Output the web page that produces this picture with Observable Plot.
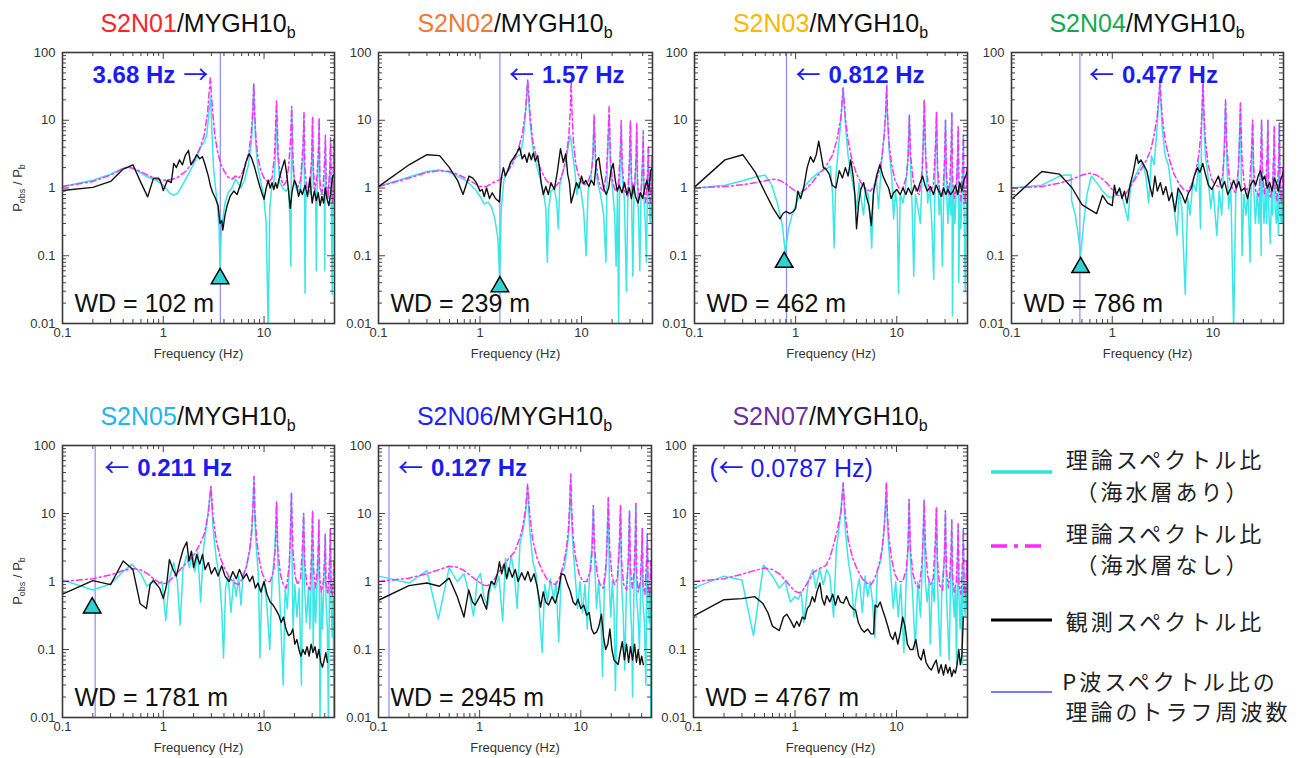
<!DOCTYPE html>
<html><head><meta charset="utf-8">
<script src="https://cdn.jsdelivr.net/npm/d3@7"></script>
<script src="https://cdn.jsdelivr.net/npm/@observablehq/plot@0.6"></script>
<style>
body{margin:0;background:#fff;}
#root{position:relative;width:1301px;height:758px;overflow:hidden;background:#fff;font-family:"Liberation Sans",Arial,Helvetica,sans-serif;}
.pw{position:absolute;}
.title{position:absolute;font-size:25px;line-height:25px;white-space:nowrap;transform:translateX(-50%);color:#111;}
.title sub{font-size:16px;line-height:0;vertical-align:-6px;}
.ylab{position:absolute;font-size:13px;line-height:13px;white-space:nowrap;transform:translate(-50%,-50%) rotate(-90deg);color:#333;}
.ylab sub{font-size:9px;line-height:0;vertical-align:-3px;}
#legend{position:absolute;left:0;top:0;}
</style></head>
<body><div id="root"></div>
<script>
// ---------------- data ----------------
const stations = ["S2N01","S2N02","S2N03","S2N04","S2N05","S2N06","S2N07"];
const reference = "MYGH10";
const waterDepths = [102, 239, 462, 786, 1781, 2945, 4767];
const troughFreqs = [3.68, 1.57, 0.812, 0.477, 0.211, 0.127, 0.0787];
const troughLabels = ["3.68 Hz","1.57 Hz","0.812 Hz","0.477 Hz","0.211 Hz","0.127 Hz","0.0787 Hz)"];
const troughMarkers = [[3.66,0.046],[1.57,0.035],[0.77,0.08],[0.485,0.067],[0.197,0.41],null,null];

const xMajor = [0.1, 1, 10];
const xMinor = [0.2,0.3,0.4,0.5,0.6,0.7,0.8,0.9,2,3,4,5,6,7,8,9,20,30,40];
const yMajor = [0.01, 0.1, 1, 10, 100];
const yMinor = [0.02,0.03,0.04,0.05,0.06,0.07,0.08,0.09,0.2,0.3,0.4,0.5,0.6,0.7,0.8,0.9,2,3,4,5,6,7,8,9,20,30,40,50,60,70,80,90];

// observed spectral ratio (black)
const obs1 = [[0.1,0.92],[0.2,1.02],[0.3,1.25],[0.4,1.9],[0.5,2.2],[0.6,1.2],[0.7,0.74],[0.8,1.4],[0.9,1.4],[0.95,1.2],[1.0,0.92],[1.1,1.3],[1.2,1.2],[1.27,2.3],[1.35,2.0],[1.45,2.6],[1.55,2.2],[1.65,3.0],[1.78,3.6],[1.88,2.2],[2.0,2.5],[2.15,3.1],[2.3,2.7],[2.45,2.9],[2.6,2.2],[2.8,1.5],[2.95,1.05],[3.1,0.85],[3.3,0.7],[3.5,0.55],[3.65,0.3],[3.8,0.33],[3.9,0.24],[4.1,0.4],[4.3,0.55],[4.6,0.75],[5.0,0.9],[5.4,0.8],[5.8,1.1],[6.2,1.6],[6.6,2.4],[7.1,3.2],[7.5,2.8],[8.0,2.1],[8.5,1.5],[9.0,1.1],[9.5,0.85],[10.0,0.68],[10.5,1.0],[11.0,1.3],[11.5,1.0],[12.0,1.2],[12.5,0.95],[13.0,1.2],[13.5,1.0],[14.0,1.3],[15.0,1.9],[16.0,2.6],[16.8,1.6],[17.5,0.9],[18.2,0.5],[19.0,0.9],[20.0,1.3],[21.0,1.1],[22.0,0.75],[23.0,0.95],[24.0,0.8],[25.5,1.1],[27.0,0.75],[28.5,1.4],[30.0,0.6],[31.5,0.9],[33.0,0.65],[34.5,0.85],[36.0,0.55],[37.5,0.75],[39.0,0.6],[40.5,1.0],[42.0,0.7],[44.0,0.55],[46.0,0.9],[48.0,1.5],[50,1.6]];
const obs2 = [[0.1,1.05],[0.2,2.2],[0.3,3.1],[0.4,3.0],[0.5,2.0],[0.6,1.3],[0.68,0.8],[0.78,1.5],[0.85,1.4],[0.92,1.2],[1.0,0.9],[1.05,0.95],[1.1,0.75],[1.16,1.0],[1.24,0.7],[1.32,0.85],[1.42,0.7],[1.55,0.62],[1.62,1.4],[1.7,2.0],[1.78,1.5],[1.88,1.8],[2.0,2.4],[2.15,2.8],[2.3,3.3],[2.45,4.0],[2.6,2.7],[2.75,3.1],[2.9,2.4],[3.05,3.3],[3.2,2.6],[3.35,3.3],[3.5,2.5],[3.7,3.0],[3.85,2.0],[4.0,1.2],[4.2,0.8],[4.45,1.05],[4.7,0.8],[5.0,1.2],[5.4,0.95],[5.8,1.8],[6.2,3.8],[6.6,2.4],[7.0,3.2],[7.3,1.6],[7.6,1.2],[7.9,0.6],[8.4,0.85],[8.9,1.2],[9.4,1.0],[10.0,1.5],[10.5,1.15],[11.0,1.3],[11.8,1.05],[12.5,1.3],[13.3,1.1],[14.0,2.5],[14.8,2.8],[15.6,1.6],[16.5,1.0],[17.5,0.8],[18.5,1.0],[19.5,1.8],[20.5,2.3],[21.5,1.3],[22.5,0.9],[23.5,1.1],[25.0,0.85],[26.5,1.2],[28.0,0.8],[29.5,1.0],[31.0,0.7],[32.5,1.1],[34.0,0.75],[36.0,0.6],[38.0,0.85],[40.0,0.7],[42.0,1.0],[44.0,1.3],[46.0,0.9],[48.0,1.8],[50,2.0]];
const obs3 = [[0.1,1.03],[0.2,2.6],[0.3,3.1],[0.4,1.7],[0.5,0.85],[0.6,0.5],[0.7,0.35],[0.75,0.42],[0.8,0.45],[0.88,0.42],[0.95,0.45],[1.0,0.5],[1.05,0.9],[1.12,0.7],[1.2,1.0],[1.3,2.0],[1.4,2.9],[1.5,2.4],[1.6,3.1],[1.69,4.9],[1.78,3.2],[1.88,2.0],[2.0,1.9],[2.15,1.6],[2.3,1.1],[2.5,1.0],[2.7,1.8],[2.9,1.4],[3.1,2.0],[3.3,1.5],[3.5,2.6],[3.7,1.5],[3.85,0.8],[4.0,0.25],[4.2,0.6],[4.4,0.95],[4.7,1.2],[5.0,0.75],[5.3,0.55],[5.6,0.28],[5.9,0.9],[6.3,1.5],[6.8,2.2],[7.3,1.5],[7.8,1.2],[8.3,1.0],[8.8,0.7],[9.3,0.85],[10.0,0.95],[10.8,0.8],[11.5,1.0],[12.3,0.8],[13.0,1.0],[14.0,0.8],[15.0,1.1],[16.0,0.9],[17.0,1.2],[18.0,1.5],[19.0,1.1],[20.0,0.9],[21.5,1.05],[23.0,0.8],[24.5,1.1],[26.0,0.9],[27.5,0.75],[29.0,1.0],[30.5,0.8],[32.0,0.95],[34.0,0.8],[36.0,0.9],[38.0,1.1],[40.0,0.8],[42.0,1.2],[44.0,0.9],[46.0,1.3],[48.0,1.5],[50,1.8]];
const obs4 = [[0.1,0.68],[0.2,1.75],[0.3,1.6],[0.4,1.0],[0.5,0.57],[0.6,0.48],[0.7,0.42],[0.8,0.78],[0.9,0.6],[1.0,0.55],[1.05,1.1],[1.1,0.8],[1.18,1.0],[1.25,0.7],[1.32,0.9],[1.4,0.6],[1.5,1.1],[1.6,1.6],[1.67,2.2],[1.74,3.1],[1.82,2.3],[1.92,2.6],[2.05,2.2],[2.2,1.8],[2.35,1.1],[2.5,0.75],[2.65,1.5],[2.8,0.9],[3.0,1.2],[3.2,0.8],[3.4,1.05],[3.65,0.65],[3.9,0.85],[4.2,0.45],[4.5,1.0],[4.9,0.8],[5.3,0.6],[5.7,0.85],[6.1,1.0],[6.5,1.5],[7.0,2.0],[7.4,1.7],[7.9,2.3],[8.4,1.6],[9.0,1.1],[9.7,0.95],[10.5,1.2],[11.3,1.5],[12.2,1.0],[13.0,1.25],[14.0,0.8],[15.0,1.0],[16.0,1.3],[17.0,1.0],[18.0,1.25],[19.0,0.9],[20.5,1.0],[22.0,0.7],[23.5,1.1],[25.0,1.3],[26.5,1.1],[28.0,1.5],[29.5,1.8],[31.0,1.3],[32.5,1.5],[34.5,1.0],[36.5,1.2],[38.5,0.9],[40.5,1.4],[42.5,1.2],[44.5,0.9],[46.5,1.3],[48.5,1.5],[50,1.8]];
const obs5 = [[0.1,0.65],[0.2,1.03],[0.3,0.9],[0.4,2.0],[0.5,1.5],[0.59,0.47],[0.68,0.4],[0.74,0.9],[0.8,1.05],[0.86,0.9],[0.92,0.8],[1.0,0.56],[1.08,0.9],[1.15,2.1],[1.25,1.5],[1.35,1.2],[1.45,1.9],[1.58,3.0],[1.71,3.8],[1.8,2.0],[1.9,2.8],[2.0,1.6],[2.15,2.5],[2.3,1.8],[2.45,2.5],[2.6,1.5],[2.8,1.9],[3.0,1.3],[3.25,1.6],[3.5,1.2],[3.8,1.7],[4.1,1.2],[4.5,1.0],[4.9,1.4],[5.3,1.1],[5.7,1.5],[6.2,1.1],[6.7,1.3],[7.2,1.0],[7.7,1.2],[8.2,0.8],[8.7,0.95],[9.3,0.7],[10.0,1.0],[10.7,0.65],[11.5,0.5],[12.3,0.45],[13.2,0.38],[14.0,0.32],[14.8,0.25],[15.6,0.3],[16.5,0.2],[17.5,0.16],[18.5,0.17],[19.3,0.2],[20.2,0.12],[21.2,0.14],[22.2,0.1],[23.2,0.08],[24.3,0.1],[25.5,0.085],[26.7,0.11],[28.0,0.08],[29.3,0.12],[30.6,0.09],[32.0,0.11],[33.5,0.075],[35.0,0.1],[36.5,0.065],[38.0,0.055],[39.5,0.07],[41.0,0.09],[42.5,0.065]];
const obs6 = [[0.1,0.53],[0.2,0.87],[0.3,0.95],[0.4,0.85],[0.5,1.12],[0.6,0.6],[0.7,0.3],[0.78,0.75],[0.85,0.5],[0.9,0.45],[0.97,0.55],[1.03,0.65],[1.09,0.5],[1.17,0.39],[1.22,0.7],[1.3,1.0],[1.4,0.9],[1.5,1.3],[1.57,1.95],[1.65,1.3],[1.75,1.8],[1.85,1.1],[1.95,1.6],[2.1,1.15],[2.25,1.5],[2.4,1.0],[2.6,1.35],[2.8,1.05],[3.0,1.4],[3.2,1.0],[3.45,1.3],[3.7,0.85],[4.0,0.42],[4.25,0.7],[4.5,0.5],[4.8,0.45],[5.2,0.6],[5.6,0.48],[6.0,0.7],[6.4,1.3],[6.9,1.25],[7.4,0.9],[7.9,0.7],[8.4,0.5],[8.9,0.45],[9.4,0.55],[10.0,0.4],[10.7,0.45],[11.4,0.32],[12.1,0.35],[12.8,0.2],[13.5,0.17],[14.3,0.18],[15.1,0.22],[16.0,0.33],[16.8,0.15],[17.6,0.1],[18.5,0.12],[19.4,0.2],[20.3,0.1],[21.3,0.07],[22.3,0.065],[23.4,0.06],[24.5,0.09],[25.7,0.13],[27.0,0.07],[28.3,0.12],[29.7,0.065],[31.0,0.11],[32.5,0.07],[34.0,0.12],[35.5,0.065],[37.0,0.1],[38.5,0.06],[40.0,0.08],[41.5,0.06]];
const obs7 = [[0.1,0.31],[0.2,0.54],[0.3,0.56],[0.4,0.6],[0.48,0.48],[0.54,0.35],[0.6,0.22],[0.7,0.19],[0.77,0.3],[0.83,0.33],[0.9,0.27],[0.98,0.21],[1.04,0.26],[1.1,0.22],[1.18,0.3],[1.25,0.28],[1.32,0.4],[1.4,0.45],[1.48,0.6],[1.56,0.5],[1.65,0.72],[1.76,0.95],[1.85,0.56],[1.95,0.45],[2.05,0.62],[2.2,0.5],[2.35,0.65],[2.5,0.45],[2.65,0.62],[2.8,0.5],[3.0,0.48],[3.2,0.6],[3.45,0.45],[3.7,0.4],[3.95,0.38],[4.2,0.25],[4.5,0.2],[4.8,0.18],[5.2,0.2],[5.6,0.17],[5.95,0.17],[6.15,0.45],[6.5,0.42],[6.9,0.5],[7.3,0.38],[7.7,0.3],[8.2,0.22],[8.7,0.16],[9.2,0.14],[9.7,0.18],[10.3,0.12],[10.9,0.18],[11.5,0.3],[12.1,0.22],[12.8,0.12],[13.6,0.1],[14.5,0.1],[15.5,0.14],[16.5,0.08],[17.5,0.07],[18.5,0.1],[19.5,0.065],[20.7,0.055],[22.0,0.05],[23.3,0.06],[24.6,0.07],[26.0,0.045],[27.5,0.06],[29.0,0.042],[30.5,0.06],[32.0,0.045],[33.5,0.055],[35.0,0.04],[36.5,0.05],[38.0,0.045],[39.5,0.06],[41.0,0.1],[42.5,0.06],[44.0,0.08],[45.5,0.3]];

// theoretical ratio without sea layer (magenta dash-dot)
const noSea1 = [[0.1,1.05],[0.2,1.25],[0.3,1.55],[0.4,1.95],[0.47,2.0],[0.55,1.85],[0.7,1.55],[0.85,1.35],[1.0,1.3],[1.2,1.33],[1.4,1.45],[1.7,1.8],[2.0,2.6],[2.3,3.8],[2.55,6],[2.75,13],[2.93,42],[3.08,14],[3.25,6],[3.45,3.5],[3.7,2.3],[4.0,1.8],[4.4,1.45],[4.8,1.35],[5.2,1.5],[5.6,1.4],[6.0,1.6],[6.6,2.3],[7.1,3.5],[7.5,7],[7.75,15],[7.9,35],[8.05,14],[8.3,5.5],[8.7,2.8],[9.3,1.8],[10.0,1.4],[11.0,1.2],[12.0,1.4],[12.7,3],[13.3,20],[13.8,3],[14.5,1.5],[15.5,1.1],[16.5,1.2],[17.5,2.0],[18.3,5],[18.8,16],[19.3,3],[20.0,1.3],[21.5,1.0],[23.0,1.3],[24.3,4],[24.9,13],[25.4,2],[26.5,1.0],[28.0,0.9],[29.6,2.5],[30.3,11],[30.9,1.8],[32.0,0.9],[33.5,1.5],[34.7,4],[35.2,11],[35.8,1.3],[37.0,0.8],[38.5,1.0],[40.1,3],[40.6,6],[41.4,1.0],[43.0,0.7],[45.0,2],[45.7,5.5],[46.5,0.9],[48.0,0.6],[49.2,5.5],[50,1.2]];
const noSea2 = [[0.1,1.05],[0.2,1.4],[0.3,1.7],[0.4,1.8],[0.5,1.75],[0.6,1.6],[0.75,1.35],[0.9,1.15],[1.0,1.05],[1.15,1.05],[1.35,1.2],[1.6,1.35],[1.85,1.7],[2.1,2.3],[2.35,3.5],[2.6,6],[2.8,13],[2.95,40],[3.1,13],[3.3,5],[3.6,2.8],[4.0,1.8],[4.5,1.3],[5.0,1.1],[5.5,1.05],[6.0,1.2],[6.6,1.8],[7.1,3],[7.5,6],[7.75,14],[7.9,40],[8.05,14],[8.3,5],[8.8,2.2],[9.5,1.4],[10.5,1.1],[11.5,1.2],[12.5,1.7],[13.0,3],[13.3,12],[13.7,3],[14.5,1.4],[15.5,1.0],[16.5,0.9],[17.5,1.6],[18.1,4],[18.7,16],[19.3,2.5],[20.3,1.2],[21.5,0.9],[23.0,1.1],[24.0,3],[24.6,10],[25.2,2],[26.5,0.9],[28.5,0.75],[29.6,2.5],[30.3,10],[31.0,1.5],[32.3,0.8],[33.5,1.2],[34.5,3],[35.0,9],[35.6,1.2],[37.0,0.7],[38.8,1.0],[40.0,3],[40.5,7],[41.2,1.0],[43.0,0.6],[44.9,2],[45.5,4],[46.3,0.8],[47.8,0.6],[49.2,3],[50,0.8]];
const noSea3 = [[0.1,1.0],[0.2,1.05],[0.3,1.12],[0.4,1.2],[0.5,1.28],[0.6,1.35],[0.7,1.3],[0.8,1.15],[0.9,1.0],[1.0,0.9],[1.1,0.85],[1.25,0.95],[1.45,1.2],[1.7,1.6],[2.0,2.1],[2.3,3],[2.55,5],[2.8,11],[2.95,30],[3.1,11],[3.3,5],[3.6,2.6],[4.0,1.6],[4.5,1.15],[5.0,0.95],[5.5,0.9],[6.0,1.1],[6.6,1.6],[7.1,2.8],[7.5,6],[7.75,13],[7.95,33],[8.1,12],[8.4,4.5],[8.9,2.2],[9.6,1.3],[10.5,1.0],[11.5,1.0],[12.5,1.5],[13.0,3],[13.3,12],[13.7,3],[14.5,1.3],[15.5,0.9],[16.7,0.8],[17.8,1.8],[18.3,5],[18.7,20],[19.3,3],[20.3,1.2],[21.5,0.9],[23.0,1.1],[24.1,4],[24.7,13],[25.3,2],[26.5,0.9],[28.5,0.75],[29.6,2.5],[30.3,10],[31.0,1.5],[32.3,0.8],[33.5,1.3],[34.5,4],[35.0,13],[35.6,1.3],[37.0,0.7],[38.8,1.0],[40.0,3.5],[40.5,8],[41.2,1.0],[43.0,0.65],[44.9,2.5],[45.5,6],[46.3,0.8],[47.8,0.6],[49.2,2],[50,1.0]];
const noSea4 = [[0.1,1.0],[0.2,1.05],[0.3,1.18],[0.4,1.35],[0.5,1.55],[0.6,1.65],[0.7,1.55],[0.8,1.35],[0.9,1.15],[1.0,0.95],[1.1,0.8],[1.2,0.75],[1.35,0.8],[1.55,1.1],[1.8,1.6],[2.1,2.3],[2.4,3.6],[2.6,6],[2.8,12],[2.97,36],[3.12,12],[3.35,5],[3.7,2.6],[4.1,1.6],[4.6,1.15],[5.1,0.95],[5.6,0.9],[6.1,1.1],[6.7,1.7],[7.2,3],[7.55,6],[7.78,14],[7.95,40],[8.1,14],[8.4,5],[8.9,2.3],[9.6,1.4],[10.5,1.1],[11.5,1.05],[12.5,1.6],[13.0,4],[13.3,20],[13.7,4],[14.5,1.4],[15.5,1.0],[16.7,0.85],[17.8,1.8],[18.3,5],[18.7,18],[19.3,3],[20.3,1.2],[21.5,0.9],[23.0,1.1],[24.1,3.5],[24.7,10],[25.3,2],[26.5,0.9],[28.5,0.75],[29.6,2.5],[30.3,10],[31.0,1.5],[32.3,0.8],[33.5,1.3],[34.5,3.5],[35.0,10],[35.6,1.3],[37.0,0.7],[38.8,1.0],[40.0,3.5],[40.5,8],[41.2,1.0],[43.0,0.65],[44.9,3],[45.5,9],[46.3,0.9],[47.8,0.6],[49.2,2],[50,1.0]];
const noSea5 = [[0.1,1.0],[0.2,1.1],[0.3,1.25],[0.4,1.45],[0.5,1.55],[0.6,1.48],[0.7,1.3],[0.8,1.1],[0.9,0.98],[1.0,0.93],[1.1,0.95],[1.25,1.15],[1.45,1.45],[1.7,1.9],[2.0,2.4],[2.3,3.5],[2.55,5],[2.8,10],[2.97,25],[3.12,9],[3.35,4],[3.7,2.2],[4.1,1.5],[4.6,1.1],[5.1,0.95],[5.6,0.9],[6.1,1.1],[6.7,1.7],[7.2,3],[7.55,6],[7.78,13],[7.95,35],[8.1,12],[8.4,4.5],[8.9,2.2],[9.6,1.3],[10.5,1.0],[11.5,1.0],[12.5,1.5],[13.0,3.5],[13.3,15],[13.7,3],[14.5,1.3],[15.5,0.9],[16.7,0.8],[17.8,1.8],[18.3,5],[18.7,20],[19.3,3],[20.3,1.2],[21.5,0.9],[23.0,1.1],[24.1,3.5],[24.7,10],[25.3,2],[26.5,0.9],[28.5,0.75],[29.6,2.5],[30.3,11],[31.0,1.5],[32.3,0.8],[33.5,1.3],[34.5,3],[35.0,8],[35.6,1.2],[37.0,0.7],[38.8,1.0],[40.0,2.5],[40.5,5],[41.2,0.9],[43.0,0.65],[44.9,2.5],[45.5,6],[46.3,0.8],[47.8,0.6],[49.2,2],[50,1.0]];
const noSea6 = [[0.1,1.0],[0.2,1.12],[0.3,1.3],[0.4,1.5],[0.5,1.68],[0.6,1.62],[0.7,1.45],[0.8,1.25],[0.9,1.08],[1.0,0.97],[1.1,0.88],[1.2,0.87],[1.35,1.0],[1.6,1.5],[1.9,2.1],[2.2,2.7],[2.45,4],[2.65,6],[2.85,12],[2.98,27],[3.12,10],[3.35,4],[3.7,2.2],[4.1,1.5],[4.6,1.1],[5.1,0.95],[5.6,0.9],[6.1,1.1],[6.7,1.7],[7.2,3],[7.55,6],[7.78,14],[7.95,38],[8.1,13],[8.4,4.5],[8.9,2.2],[9.6,1.3],[10.5,1.0],[11.5,1.0],[12.5,1.5],[13.0,3],[13.3,13],[13.7,3],[14.5,1.3],[15.5,0.9],[16.7,0.8],[17.8,1.8],[18.3,5],[18.7,17],[19.3,3],[20.3,1.2],[21.5,0.9],[23.0,1.1],[24.1,4],[24.7,13],[25.3,2],[26.5,0.9],[28.5,0.75],[29.6,2.5],[30.3,11],[31.0,1.5],[32.3,0.8],[33.5,1.3],[34.5,4],[35.0,14],[35.6,1.3],[37.0,0.7],[38.8,1.0],[40.0,3],[40.5,6],[41.2,0.9],[43.0,0.65],[44.9,2.5],[45.5,5],[46.3,0.8],[47.8,0.6],[49.2,2],[50,1.2]];
const noSea7 = [[0.1,1.0],[0.2,1.1],[0.3,1.28],[0.4,1.45],[0.5,1.58],[0.6,1.5],[0.7,1.3],[0.8,1.05],[0.9,0.85],[1.0,0.72],[1.1,0.68],[1.2,0.75],[1.35,1.0],[1.55,1.4],[1.8,1.6],[2.0,1.7],[2.2,2.2],[2.4,3.5],[2.6,5.5],[2.85,11],[2.98,28],[3.12,10],[3.35,4],[3.7,2.2],[4.1,1.5],[4.6,1.1],[5.1,0.95],[5.6,0.9],[6.1,1.1],[6.7,1.7],[7.2,3],[7.55,6],[7.78,12],[7.95,28],[8.1,11],[8.4,4.5],[8.9,2.2],[9.6,1.3],[10.5,1.0],[11.5,1.0],[12.5,1.5],[13.0,3.5],[13.3,16],[13.7,3],[14.5,1.3],[15.5,0.9],[16.7,0.8],[17.8,1.8],[18.3,5],[18.7,16],[19.3,3],[20.3,1.2],[21.5,0.9],[23.0,1.1],[24.1,4],[24.7,12],[25.3,2],[26.5,0.9],[28.5,0.75],[29.6,2.5],[30.3,11],[31.0,1.5],[32.3,0.8],[33.5,1.3],[34.5,3],[35.0,8],[35.6,1.2],[37.0,0.7],[38.8,1.0],[40.0,3],[40.5,7],[41.2,0.9],[43.0,0.65],[44.9,2.5],[45.5,6],[46.3,0.8],[47.8,0.6],[49.2,2],[50,1.0]];

// theoretical ratio with sea layer (cyan)
const withSea1 = [[0.1,1.05],[0.2,1.3],[0.3,1.6],[0.4,1.95],[0.47,2.05],[0.55,1.8],[0.7,1.45],[0.85,1.3],[1.0,1.1],[1.15,0.85],[1.27,0.78],[1.4,0.85],[1.6,1.2],[1.85,1.8],[2.1,2.6],[2.35,4.0],[2.55,4.8],[2.7,6],[2.85,14],[2.95,22],[3.05,6],[3.15,2],[3.3,1.0],[3.45,0.55],[3.58,0.25],[3.66,0.065],[3.75,0.2],[3.9,0.35],[4.1,0.6],[4.4,0.85],[4.8,1.0],[5.2,1.35],[5.5,1.2],[5.9,1.0],[6.4,1.3],[7.0,2.2],[7.5,5],[7.75,12],[7.9,35],[8.05,12],[8.3,4],[8.7,2],[9.3,1.2],[9.9,0.8],[10.5,0.3],[11.0,0.008],[11.4,0.5],[11.9,1.0],[12.6,1.3],[13.0,3],[13.3,15],[13.7,3],[14.3,1.2],[15.3,1.0],[16.5,0.9],[17.5,1.0],[18.1,0.3],[18.45,0.07],[18.8,15],[19.3,2],[20.3,1.1],[21.5,0.9],[23.0,1.0],[24.4,3],[24.9,12],[25.2,1],[25.5,0.028],[26.0,0.8],[27.5,0.9],[29.0,0.8],[29.8,3],[30.3,11],[30.8,1.0],[32.5,0.9],[33.0,0.06],[33.6,0.9],[34.7,3],[35.2,10],[35.7,1.0],[38.0,0.8],[39.7,0.8],[40.1,0.06],[40.4,2],[40.7,5],[41.2,0.9],[43.0,0.7],[45.2,2],[45.7,5],[46.3,0.9],[47.5,0.027],[48.2,0.8],[49.5,1.0],[50,1.5]];
const withSea2 = [[0.1,1.05],[0.2,1.45],[0.3,1.75],[0.4,1.85],[0.5,1.7],[0.6,1.5],[0.75,1.25],[0.9,0.95],[1.0,0.75],[1.1,0.58],[1.2,0.62],[1.3,0.52],[1.4,0.35],[1.5,0.18],[1.56,0.045],[1.62,0.5],[1.72,1.3],[1.85,1.8],[2.05,2.4],[2.3,2.9],[2.5,3.1],[2.65,5],[2.8,12],[2.95,38],[3.1,10],[3.3,4],[3.6,2.2],[3.9,1.4],[4.2,0.9],[4.45,0.5],[4.6,0.08],[4.75,0.5],[5.0,0.9],[5.4,1.0],[5.7,0.6],[5.9,0.25],[6.1,1.1],[6.5,1.6],[7.0,2.6],[7.4,4],[7.7,6],[7.9,5],[8.2,3],[8.6,1.8],[9.0,0.8],[9.4,1.2],[9.9,0.9],[10.5,0.45],[11.1,0.1],[11.6,0.9],[12.3,1.3],[12.9,3],[13.3,11],[13.7,2.5],[14.4,1.2],[15.4,0.8],[16.5,0.4],[17.4,0.08],[17.9,2],[18.7,12],[19.3,2],[20.3,0.9],[21.2,0.4],[21.9,0.07],[22.6,0.9],[23.2,0.008],[23.7,1.0],[24.6,8],[25.2,1.5],[26.4,0.7],[27.7,0.03],[28.5,0.6],[29.6,2],[30.3,9],[31.0,1.0],[32.0,0.05],[32.8,0.7],[34.4,2.5],[35.0,8],[35.6,0.9],[36.6,0.3],[37.5,0.06],[38.5,0.7],[40.0,2.5],[40.5,6],[41.2,0.7],[42.5,0.3],[43.6,0.08],[44.5,0.8],[45.5,4],[46.3,0.6],[47.5,0.3],[48.5,0.6],[49.5,2.5],[50,0.008]];
const withSea3 = [[0.1,1.0],[0.2,1.1],[0.3,1.28],[0.4,1.45],[0.5,1.55],[0.58,1.1],[0.66,0.6],[0.74,0.28],[0.79,0.11],[0.85,0.25],[0.92,0.4],[1.0,0.55],[1.1,0.8],[1.25,1.1],[1.45,1.4],[1.7,1.7],[2.0,1.9],[2.2,2.1],[2.32,0.8],[2.4,0.13],[2.5,1.5],[2.65,4],[2.8,10],[2.95,30],[3.1,9],[3.3,3],[3.55,1.5],[3.8,0.9],[4.0,0.5],[4.25,1.2],[4.5,0.6],[4.7,0.4],[4.9,1.0],[5.2,0.8],[5.5,0.3],[5.65,0.13],[5.85,0.8],[6.3,1.3],[6.6,0.5],[7.0,2.0],[7.5,6],[7.75,12],[7.95,33],[8.1,10],[8.4,3.5],[8.9,1.5],[9.3,0.35],[9.7,0.9],[10.1,0.5],[10.4,0.028],[10.8,0.8],[11.5,0.6],[12.2,1.0],[12.8,2.5],[13.3,12],[13.7,2],[14.2,0.5],[14.7,0.05],[15.3,0.8],[16.2,0.5],[17.1,0.3],[17.8,1.5],[18.7,20],[19.3,2.5],[20.2,0.6],[21.2,1.0],[22.2,0.3],[23.2,0.045],[24.0,2.5],[24.7,13],[25.3,1.5],[26.3,0.4],[27.2,0.9],[28.2,0.07],[29.0,0.6],[29.7,2],[30.3,10],[31.0,1.0],[32.0,0.3],[33.0,0.9],[34.0,0.4],[34.5,2.5],[35.0,13],[35.5,0.013],[36.5,0.8],[37.5,0.3],[38.5,0.8],[40.0,3],[40.5,8],[41.0,0.04],[42.0,0.7],[43.0,0.25],[44.0,0.7],[45.0,2],[45.5,6],[46.2,0.5],[47.5,0.03],[48.5,0.6],[49.3,0.3],[50,0.9]];
const withSea4 = [[0.1,1.0],[0.2,1.1],[0.3,1.5],[0.35,1.55],[0.39,1.55],[0.395,0.65],[0.43,0.4],[0.46,0.2],[0.485,0.1],[0.52,0.3],[0.56,0.8],[0.62,1.5],[0.7,1.2],[0.8,0.9],[0.9,0.75],[1.0,0.72],[1.1,0.8],[1.2,0.95],[1.3,0.6],[1.43,0.33],[1.52,1.1],[1.65,1.4],[1.8,1.8],[2.0,2.4],[2.15,1.5],[2.3,0.6],[2.45,3],[2.6,2.2],[2.75,6],[2.97,35],[3.12,8],[3.35,3],[3.6,2.2],[3.85,1.0],[4.1,0.5],[4.4,0.2],[4.6,0.9],[4.9,0.5],[5.3,0.027],[5.6,0.7],[5.9,0.4],[6.3,1.2],[6.8,0.9],[7.2,2.5],[7.5,0.25],[7.7,8],[7.95,40],[8.1,10],[8.4,3],[8.9,1.5],[9.5,0.5],[10.0,1.0],[10.9,0.2],[11.5,0.9],[12.2,0.4],[12.8,3],[13.3,18],[13.7,2.5],[14.3,0.5],[15.0,1.0],[16.0,0.008],[16.8,0.8],[17.8,1.5],[18.7,18],[19.1,1.0],[19.4,0.1],[20.2,0.8],[21.2,0.4],[22.2,0.9],[23.3,0.08],[24.1,2.5],[24.7,10],[25.3,1.0],[26.3,0.3],[27.5,0.9],[28.5,0.3],[29.5,1.5],[30.0,0.1],[30.3,10],[31.0,1.0],[32.0,0.3],[33.0,0.9],[34.0,0.3],[34.6,3],[35.0,10],[35.6,0.5],[37.0,0.15],[38.0,0.8],[39.0,0.4],[40.0,3],[40.5,8],[41.2,0.5],[42.5,0.3],[43.5,0.8],[44.6,0.2],[45.0,3],[45.5,9],[46.3,0.4],[47.5,0.3],[48.5,0.8],[49.5,0.3],[50,0.9]];
const withSea5 = [[0.1,1.05],[0.2,0.75],[0.3,0.92],[0.4,1.4],[0.49,1.8],[0.6,1.3],[0.69,0.85],[0.78,1.0],[0.87,0.9],[0.97,1.0],[1.06,0.27],[1.15,1.1],[1.27,1.9],[1.38,1.0],[1.47,0.23],[1.57,1.5],[1.7,2.4],[1.82,1.6],[1.95,2.6],[2.05,1.4],[2.2,2.7],[2.35,0.5],[2.5,3],[2.7,7],[2.97,25],[3.12,6],[3.35,2.2],[3.6,1.2],[3.8,0.4],[3.96,0.075],[4.15,0.8],[4.4,1.2],[4.7,0.35],[5.0,1.1],[5.3,0.6],[5.6,1.2],[5.9,0.45],[6.2,1.3],[6.7,1.6],[7.2,2.8],[7.55,5],[7.95,35],[8.1,8],[8.4,3],[8.8,1.2],[9.1,0.075],[9.5,0.8],[10.0,1.0],[10.6,0.5],[11.4,0.1],[12.0,1.0],[12.8,3],[13.3,15],[13.7,2],[14.3,0.6],[15.5,0.03],[16.2,0.8],[17.0,0.4],[17.8,1.5],[18.7,20],[19.1,1.0],[19.4,0.2],[20.2,0.9],[21.2,0.3],[22.3,0.8],[23.5,0.03],[24.1,2],[24.7,10],[25.3,0.8],[26.3,0.25],[27.5,0.8],[28.5,0.2],[29.6,1.5],[30.3,11],[30.7,0.1],[31.5,0.8],[32.5,0.25],[33.5,0.9],[34.5,2.5],[35.0,8],[35.9,0.008],[37.0,0.7],[38.0,0.2],[39.0,0.8],[40.0,2],[40.5,5],[41.2,0.5],[42.5,0.2],[43.5,0.008],[44.5,0.8],[45.5,6],[46.3,0.4],[47.5,0.15],[48.5,0.6],[49.3,0.008],[50,0.5]];
const withSea6 = [[0.1,1.2],[0.2,0.95],[0.3,1.45],[0.39,0.28],[0.5,1.6],[0.6,1.0],[0.7,1.3],[0.8,0.6],[0.87,0.31],[0.95,1.1],[1.02,1.3],[1.1,0.6],[1.2,0.45],[1.3,1.0],[1.42,0.8],[1.55,1.2],[1.69,0.26],[1.8,2.2],[1.92,1.2],[2.05,2.4],[2.2,1.3],[2.35,0.4],[2.5,3.5],[2.7,6],[2.85,10],[2.98,25],[3.12,6],[3.35,2],[3.6,1.3],[3.85,0.5],[4.15,0.09],[4.4,0.9],[4.7,0.5],[5.0,1.1],[5.4,0.55],[5.7,1.0],[6.05,0.13],[6.4,1.3],[6.9,1.6],[7.3,3],[7.6,5],[7.95,35],[8.1,8],[8.4,3],[8.8,1.2],[9.3,0.4],[9.8,1.0],[10.4,0.35],[11.0,0.9],[11.6,0.2],[12.2,1.2],[12.8,3],[13.3,13],[13.7,2],[14.3,0.4],[15.0,1.0],[15.8,0.3],[16.4,0.04],[17.1,0.9],[17.8,1.5],[18.7,17],[19.2,0.8],[19.8,0.3],[20.5,1.0],[21.3,0.4],[22.0,0.025],[23.0,0.9],[24.1,3],[24.7,13],[25.3,0.9],[26.3,0.3],[27.2,0.05],[28.3,0.9],[29.6,2],[30.3,11],[30.8,0.5],[31.8,0.2],[32.5,0.02],[33.5,0.8],[34.5,3],[35.0,14],[35.6,0.6],[36.8,0.3],[38.0,0.1],[39.0,0.8],[40.0,2.5],[40.5,6],[41.2,0.5],[42.5,0.25],[44.0,0.03],[44.9,2],[45.5,5],[46.3,0.4],[47.5,0.25],[48.5,0.8],[49.2,0.008],[50,0.6]];
const withSea7 = [[0.1,0.8],[0.2,1.2],[0.3,1.05],[0.39,0.16],[0.49,1.75],[0.6,1.2],[0.7,0.8],[0.8,1.0],[0.9,0.5],[1.0,0.6],[1.08,0.55],[1.15,0.7],[1.22,0.25],[1.35,1.0],[1.5,1.5],[1.6,0.8],[1.75,1.5],[1.9,0.9],[2.05,1.5],[2.2,1.2],[2.4,0.3],[2.55,3],[2.75,7],[2.98,28],[3.12,6],[3.35,2],[3.6,1.0],[3.8,0.3],[4.05,0.7],[4.3,1.1],[4.6,0.35],[4.9,1.2],[5.2,0.6],[5.5,1.0],[5.8,0.5],[6.1,0.15],[6.5,1.5],[7.0,2],[7.5,5],[7.95,28],[8.1,8],[8.4,3],[8.8,1.2],[9.3,0.4],[9.8,1.0],[10.4,0.3],[11.0,0.9],[11.8,0.09],[12.5,1.2],[13.0,3],[13.3,16],[13.7,2],[14.3,0.8],[15.3,0.1],[16.2,1.0],[17.2,0.3],[17.9,1.5],[18.7,16],[19.2,1.0],[20.0,0.5],[20.8,1.0],[21.5,0.12],[22.5,1.0],[23.5,0.5],[24.1,3],[24.7,12],[25.3,1.0],[26.0,0.3],[27.0,0.08],[28.0,0.9],[29.6,2],[30.3,11],[30.9,0.8],[32.0,0.2],[33.0,0.07],[34.0,0.9],[34.6,2.5],[35.0,8],[35.6,0.8],[37.0,0.3],[38.0,0.8],[39.0,0.06],[40.0,2.5],[40.5,7],[41.2,0.6],[42.3,0.2],[43.5,0.8],[44.2,0.06],[45.0,2],[45.5,6],[46.3,0.5],[47.5,0.3],[48.5,0.9],[49.3,0.4],[50,0.8]];

const observed = [obs1, obs2, obs3, obs4, obs5, obs6, obs7];
const withSeaLayer = [withSea1, withSea2, withSea3, withSea4, withSea5, withSea6, withSea7];
const withoutSeaLayer = [noSea1, noSea2, noSea3, noSea4, noSea5, noSea6, noSea7];

// ---------------- layout & style ----------------
const stationColors = ["#ff2626","#ef7a30","#ffb600","#13a94f","#24b3ee","#2121ff","#6b2fa3"];
const frameLeft = [62, 378, 694, 1011, 62, 378, 693];
const frameTop  = [52, 52, 52, 52, 445, 445, 445];
const frameW = [272, 274, 273, 272, 272, 273, 274];
const frameH = [271, 271, 271, 271, 272, 272, 272];
const labelSide = ["left","right","right","right","right","right","inside"];
const showYLabel = [true,false,false,false,true,false,false];
const C_CYAN = "#3be6e6", C_MAG = "#ff30ff", C_BLACK = "#111", C_BLUE = "#8a8aff", C_TXTBLUE = "#1c1cf0";
const FONT = "Liberation Sans, Arial, Helvetica, sans-serif";
const ARROW_FONT = "Noto Sans CJK JP, sans-serif";

const root = document.getElementById("root");
const mL = 60, mT = 8, mR = 8, mB = 44;
const toObj = arr => arr.map(([f, v]) => ({f, v}));

for (let i = 0; i < 7; i++) {
  const W = frameW[i], H = frameH[i];
  const fT = troughFreqs[i];
  const inDomain = fT >= 0.1;
  const side = labelSide[i];
  const marks = [];
  if (inDomain) marks.push(Plot.ruleX([fT], {x: d => d, stroke: C_BLUE, strokeWidth: 1.2}));
  marks.push(
    Plot.line(toObj(withSeaLayer[i]), {x: "f", y: "v", stroke: C_CYAN, strokeWidth: 1.5, clip: true}),
    Plot.line(toObj(withoutSeaLayer[i]), {x: "f", y: "v", stroke: C_MAG, strokeWidth: 1.5, strokeDasharray: "6,3,2,3", clip: true}),
    Plot.line(toObj(observed[i]), {x: "f", y: "v", stroke: C_BLACK, strokeWidth: 1.4, clip: true})
  );
  if (troughMarkers[i]) marks.push(Plot.dot([troughMarkers[i]], {x: d => d[0], y: d => d[1], symbol: "triangle", r: 6.5, fill: "#2fd2d2", stroke: "#000", strokeWidth: 1.5}));
  // annotations
  if (side === "left") {
    marks.push(Plot.text([fT], {x: d => d, frameAnchor: "top", dy: 23, dx: -12, text: () => "\u2192", textAnchor: "end", lineAnchor: "middle", fontSize: 25, fontFamily: ARROW_FONT, fill: C_TXTBLUE}));
    marks.push(Plot.text([fT], {x: d => d, frameAnchor: "top", dy: 23, dx: -45, text: () => troughLabels[i], textAnchor: "end", lineAnchor: "middle", fontSize: 24, fontWeight: "bold", fill: C_TXTBLUE}));
  } else if (side === "right") {
    marks.push(Plot.text([fT], {x: d => d, frameAnchor: "top", dy: 23, dx: 9, text: () => "\u2190", textAnchor: "start", lineAnchor: "middle", fontSize: 25, fontFamily: ARROW_FONT, fill: C_TXTBLUE}));
    marks.push(Plot.text([fT], {x: d => d, frameAnchor: "top", dy: 23, dx: 42, text: () => troughLabels[i], textAnchor: "start", lineAnchor: "middle", fontSize: 24, fontWeight: "bold", fill: C_TXTBLUE}));
  } else {
    marks.push(Plot.text(["("], {frameAnchor: "top-left", dy: 23, dx: 16, text: d => d, textAnchor: "start", lineAnchor: "middle", fontSize: 25, fill: C_TXTBLUE}));
    marks.push(Plot.text(["\u2190"], {frameAnchor: "top-left", dy: 23, dx: 25, text: d => d, textAnchor: "start", lineAnchor: "middle", fontSize: 25, fontFamily: ARROW_FONT, fill: C_TXTBLUE}));
    marks.push(Plot.text([troughLabels[i]], {frameAnchor: "top-left", dy: 23, dx: 57, text: d => d, textAnchor: "start", lineAnchor: "middle", fontSize: 25, fill: C_TXTBLUE}));
  }
  marks.push(Plot.text([waterDepths[i]], {frameAnchor: "bottom-left", dx: 12, dy: -20, text: d => `WD = ${d} m`, textAnchor: "start", lineAnchor: "middle", fontSize: 25, fill: "#111"}));
  // inward ticks on all sides
  const tk = {stroke: "#444", strokeWidth: 1};
  marks.push(
    Plot.tickX(xMajor, {x: d => d, insetTop: H - 7, ...tk}),
    Plot.tickX(xMajor, {x: d => d, insetBottom: H - 7, ...tk}),
    Plot.tickX(xMinor, {x: d => d, insetTop: H - 4, ...tk}),
    Plot.tickX(xMinor, {x: d => d, insetBottom: H - 4, ...tk}),
    Plot.tickY(yMajor, {y: d => d, insetRight: W - 7, ...tk}),
    Plot.tickY(yMajor, {y: d => d, insetLeft: W - 7, ...tk}),
    Plot.tickY(yMinor, {y: d => d, insetRight: W - 4, ...tk}),
    Plot.tickY(yMinor, {y: d => d, insetLeft: W - 4, ...tk})
  );
  // tick labels
  marks.push(
    Plot.text(xMajor, {x: d => d, frameAnchor: "bottom", lineAnchor: "top", dy: 4, text: d => String(d), fontSize: 13, fill: "#333"}),
    Plot.text(yMajor, {y: d => d, frameAnchor: "left", textAnchor: "end", lineAnchor: "middle", dx: -7, text: d => String(d), fontSize: 13, fill: "#333"}),
    Plot.text(["Frequency (Hz)"], {frameAnchor: "bottom", dy: 30, lineAnchor: "middle", text: d => d, fontSize: 13, fill: "#333"}),
    Plot.frame({stroke: "#3a3a3a", strokeWidth: 1.6})
  );
  const svg = Plot.plot({
    width: mL + W + mR, height: mT + H + mB,
    marginLeft: mL, marginTop: mT, marginRight: mR, marginBottom: mB,
    x: {type: "log", domain: [0.1, 50], axis: null},
    y: {type: "log", domain: [0.01, 100], axis: null},
    style: {fontFamily: FONT, background: "transparent", overflow: "visible", maxWidth: "none"},
    marks
  });
  const wrap = document.createElement("div");
  wrap.className = "pw";
  wrap.style.left = (frameLeft[i] - mL) + "px";
  wrap.style.top = (frameTop[i] - mT) + "px";
  wrap.appendChild(svg);
  root.appendChild(wrap);

  const t = document.createElement("div");
  t.className = "title";
  t.style.left = (frameLeft[i] + W / 2) + "px";
  t.style.top = (frameTop[i] - 41) + "px";
  t.innerHTML = `<span style="color:${stationColors[i]}">${stations[i]}</span>/${reference}<sub>b</sub>`;
  root.appendChild(t);

  if (showYLabel[i]) {
    const yl = document.createElement("div");
    yl.className = "ylab";
    yl.style.left = "17px";
    yl.style.top = (frameTop[i] + H / 2) + "px";
    yl.innerHTML = "P<sub>obs</sub> / P<sub>b</sub>";
    root.appendChild(yl);
  }
}

// ---------------- legend ----------------
const legendLines = [
  {lines: ["理論スペクトル比", "（海水層あり）"], ty: [458, 490], sy: 472, stroke: "#30e4e4", sw: 3.5, dash: null, cx: [1165, 1163]},
  {lines: ["理論スペクトル比", "（海水層なし）"], ty: [532, 563], sy: 546, stroke: "#ff28ff", sw: 3.5, dash: "16,7,4,7", cx: [1165, 1163]},
  {lines: ["観測スペクトル比"], ty: [620], sy: 620, stroke: "#000", sw: 3, dash: null, cx: [1165]},
  {lines: ["P波スペクトル比の", "理論のトラフ周波数"], ty: [680, 710], sy: 692, stroke: "#4a4aff", sw: 1.3, dash: null, cx: [1170, 1178]}
];
const NS = "http://www.w3.org/2000/svg";
const lg = document.createElementNS(NS, "svg");
lg.setAttribute("id", "legend");
lg.setAttribute("width", 1301); lg.setAttribute("height", 758);
lg.style.pointerEvents = "none";
for (const item of legendLines) {
  const ln = document.createElementNS(NS, "line");
  ln.setAttribute("x1", 991); ln.setAttribute("x2", item.dash ? 1043 : 1052);
  ln.setAttribute("y1", item.sy); ln.setAttribute("y2", item.sy);
  ln.setAttribute("stroke", item.stroke); ln.setAttribute("stroke-width", item.sw);
  if (item.dash) ln.setAttribute("stroke-dasharray", item.dash);
  lg.appendChild(ln);
  item.lines.forEach((s, k) => {
    const tx = document.createElementNS(NS, "text");
    tx.setAttribute("x", item.cx[k]); tx.setAttribute("y", item.ty[k]);
    tx.setAttribute("text-anchor", "middle");
    tx.setAttribute("dominant-baseline", "central");
    tx.setAttribute("font-family", "Noto Sans CJK JP, sans-serif");
    tx.setAttribute("font-size", 22);
    tx.setAttribute("letter-spacing", 3);
    tx.setAttribute("fill", "#222");
    tx.textContent = s;
    lg.appendChild(tx);
  });
}
root.appendChild(lg);
</script></body></html>
